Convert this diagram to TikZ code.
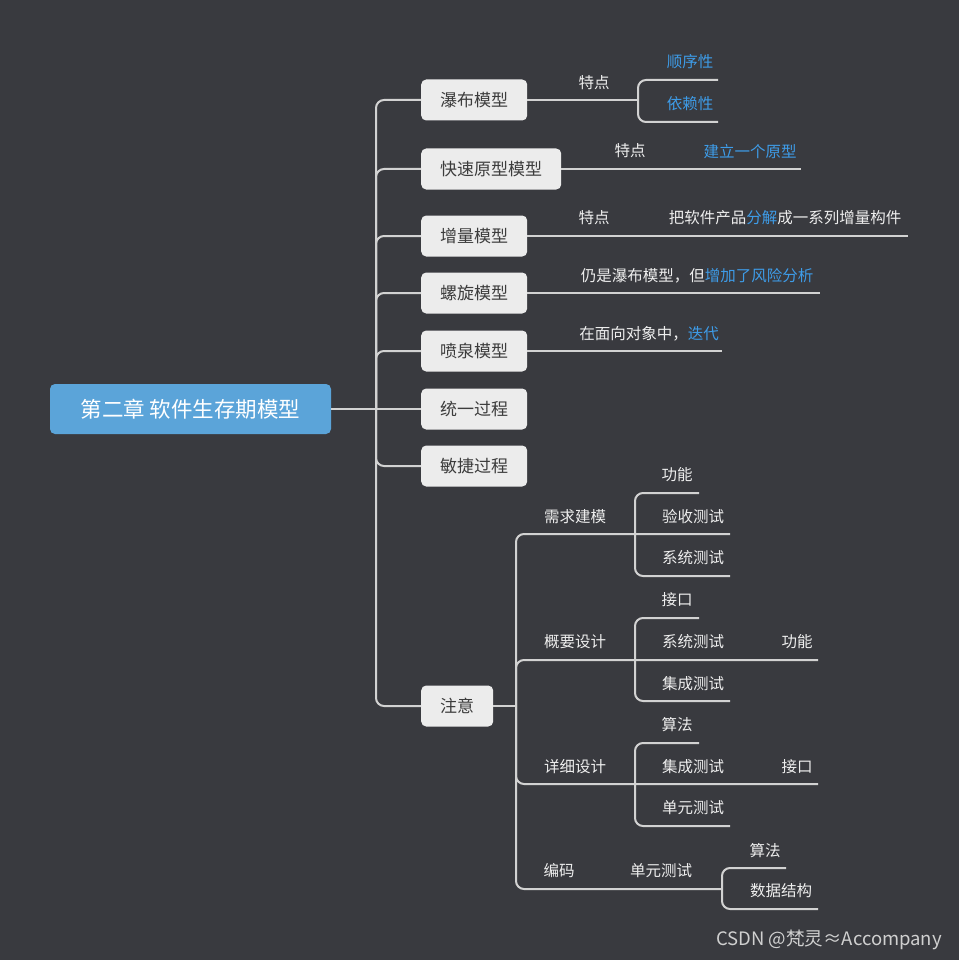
\documentclass[tikz,border=0pt]{standalone}
\usepackage{fontspec}
\setmainfont{Noto Sans CJK SC}
\definecolor{bg}{HTML}{393A3F}
\definecolor{ln}{HTML}{D2D2D2}
\definecolor{boxf}{HTML}{ECECEC}
\definecolor{boxt}{HTML}{3C3C3C}
\definecolor{rootf}{HTML}{5BA4D9}
\definecolor{blu}{HTML}{3E9CE8}
\definecolor{lbl}{HTML}{EEEEEE}
\definecolor{wm}{HTML}{D0D0D0}
\begin{document}
\begin{tikzpicture}[x=1pt,y=-1pt,
 conn/.style={draw=ln,line width=2pt,rounded corners=8pt},
 topic/.style={fill=boxf,text=boxt,rounded corners=5pt,minimum height=41pt,inner xsep=19pt,inner ysep=0pt,anchor=west,font=\fontsize{17}{17}\selectfont},
 rootbox/.style={fill=rootf,text=white,rounded corners=5pt,minimum width=281pt,minimum height=50pt,font=\fontsize{21.5}{21.5}\selectfont},
 lab/.style={text=lbl,inner sep=0pt,font=\fontsize{15.5}{16}\selectfont},
 hl/.style={text=blu,inner sep=0pt,font=\fontsize{15.5}{16}\selectfont}]
\fill[bg] (0,0) rectangle (959,960);
\useasboundingbox (0,0) rectangle (959,960);

% root and topics
\node[rootbox] (root) at (190.5,409) {第二章 软件生存期模型};
\node[topic] (t1) at (421,100) {瀑布模型};
\node[topic] (t2) at (421,169) {快速原型模型};
\node[topic] (t3) at (421,236) {增量模型};
\node[topic] (t4) at (421,293) {螺旋模型};
\node[topic] (t5) at (421,351) {喷泉模型};
\node[topic] (t6) at (421,409) {统一过程};
\node[topic] (t7) at (421,466) {敏捷过程};
\node[topic] (t8) at (421,706) {注意};

\coordinate (sp) at (376,409);
\draw[conn] (root.east) -- (t6.west);
\foreach \t in {t1,t2,t3,t4,t5,t7,t8} { \draw[conn] (sp) |- (\t.west); }

% 瀑布模型
\coordinate (w1j) at (638,100);
\coordinate (w1a) at (718,80);
\coordinate (w1b) at (718,122);
\draw[conn] (t1.east) -- (w1j);
\draw[conn] (w1a) -| (w1j) |- (w1b);
\node[lab] (l1) at (594,83) {特点};
\node[hl] (l1a) at (690,62) {顺序性};
\node[hl] (l1b) at (690,104) {依赖性};

% 快速原型模型
\coordinate (k2e) at (801,169);
\draw[conn] (t2.east) -- (k2e);
\node[lab] (l2) at (630,151) {特点};
\node[hl] (l2a) at (750,152) {建立一个原型};

% 增量模型
\coordinate (k3e) at (908,236);
\draw[conn] (t3.east) -- (k3e);
\node[lab] (l3) at (594,218) {特点};
\node[lab] (l3a) at (785,218) {把软件产品\textcolor{blu}{分解}成一系列增量构件};

% 螺旋模型
\coordinate (k4e) at (820,293);
\draw[conn] (t4.east) -- (k4e);
\node[lab] (l4) at (697,276) {仍是瀑布模型，但\textcolor{blu}{增加了风险分析}};

% 喷泉模型
\coordinate (k5e) at (722,351);
\draw[conn] (t5.east) -- (k5e);
\node[lab] (l5) at (649,334) {在面向对象中，\textcolor{blu}{迭代}};

% 注意
\coordinate (sp2) at (516,706);
\draw[conn] (t8.east) -- (sp2);

% 需求建模
\coordinate (r1j) at (635,534);
\coordinate (r1a) at (699,493);
\coordinate (r1m) at (730,534);
\coordinate (r1c) at (730,576);
\draw[conn] (sp2) |- (r1m);
\draw[conn] (r1a) -| (r1j) |- (r1c);
\node[lab] (n1) at (575,517) {需求建模};
\node[lab] (n1a) at (677,475) {功能};
\node[lab] (n1b) at (693,517) {验收测试};
\node[lab] (n1c) at (693,558) {系统测试};

% 概要设计
\coordinate (r2j) at (635,660);
\coordinate (r2a) at (699,618);
\coordinate (r2m) at (818,660);
\coordinate (r2c) at (730,701);
\draw[conn] (sp2) |- (r2m);
\draw[conn] (r2a) -| (r2j) |- (r2c);
\node[lab] (n2) at (575,642) {概要设计};
\node[lab] (n2a) at (677,600) {接口};
\node[lab] (n2b) at (693,642) {系统测试};
\node[lab] (n2bb) at (797,642) {功能};
\node[lab] (n2c) at (693,684) {集成测试};

% 详细设计
\coordinate (r3j) at (635,784);
\coordinate (r3a) at (699,743);
\coordinate (r3m) at (818,784);
\coordinate (r3c) at (730,826);
\draw[conn] (sp2) |- (r3m);
\draw[conn] (r3a) -| (r3j) |- (r3c);
\node[lab] (n3) at (575,767) {详细设计};
\node[lab] (n3a) at (677,725) {算法};
\node[lab] (n3b) at (693,767) {集成测试};
\node[lab] (n3bb) at (797,767) {接口};
\node[lab] (n3c) at (693,808) {单元测试};

% 编码
\coordinate (r4j) at (722,889);
\coordinate (r4a) at (786,868);
\coordinate (r4c) at (818,909);
\draw[conn] (sp2) |- (r4j);
\draw[conn] (r4a) -| (r4j) |- (r4c);
\node[lab] (n4) at (559,871) {编码};
\node[lab] (n4a) at (661,871) {单元测试};
\node[lab] (n4b) at (765,851) {算法};
\node[lab] (n4c) at (781,891) {数据结构};

% watermark
\node[text=wm,inner sep=0pt,font=\fontsize{18.5}{18.5}\selectfont] (wmk) at (829,940) {CSDN @梵灵≈Accompany};
\end{tikzpicture}
\end{document}
